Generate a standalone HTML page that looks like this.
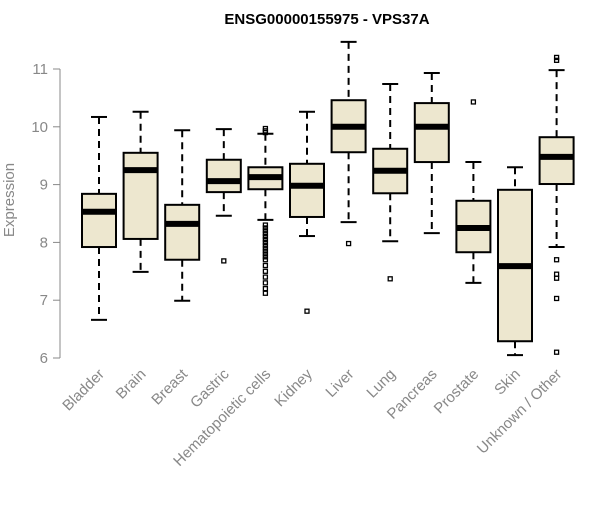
<!DOCTYPE html>
<html><head><meta charset="utf-8"><style>
body{margin:0;background:#fff;font-family:"Liberation Sans",sans-serif}
</style></head><body>
<svg id="c" width="600" height="500" xmlns="http://www.w3.org/2000/svg">
<text x="327" y="24" text-anchor="middle" font-weight="bold" font-size="15">ENSG00000155975 - VPS37A</text>
<text transform="translate(14,200) rotate(-90)" text-anchor="middle" font-size="15" fill="#888">Expression</text>
</svg>
<script>
const categories=["Bladder","Brain","Breast","Gastric","Hematopoietic cells","Kidney","Liver","Lung","Pancreas","Prostate","Skin","Unknown / Other"];
const lows=[6.66,7.49,6.99,8.46,8.39,8.11,8.35,8.02,8.16,7.30,6.05,7.92];
const q1s=[7.92,8.06,7.70,8.87,8.92,8.44,9.56,8.85,9.39,7.83,6.29,9.01];
const medians=[8.53,9.25,8.32,9.06,9.13,8.98,10.0,9.24,10.0,8.25,7.59,9.48];
const q3s=[8.84,9.55,8.65,9.43,9.30,9.36,10.46,9.62,10.41,8.72,8.91,9.82];
const highs=[10.17,10.26,9.94,9.96,9.88,10.26,11.47,10.74,10.93,9.39,9.30,10.98];
const outliers=[[],[],[],[7.68],[9.97,9.93,9.90,8.30,8.25,8.2,8.15,8.1,8.05,8.0,7.95,7.9,7.85,7.8,7.75,7.7,7.6,7.5,7.4,7.3,7.2,7.12],[6.81],[7.98],[7.37],[],[10.43],[],[11.2,11.15,7.7,7.45,7.38,7.03,6.1]];
const yTicks=[6,7,8,9,10,11];
const svg=document.getElementById('c');const NS='http://www.w3.org/2000/svg';
const y=v=>358-(v-6)*57.8;const x=i=>99+i*41.6;
function el(t,a,p){const e=document.createElementNS(NS,t);for(const k in a)e.setAttribute(k,a[k]);(p||svg).appendChild(e);return e;}
const ax=el('line',{x1:60,x2:60,y1:y(6),y2:y(11),stroke:'#888'});


yTicks.forEach(v=>{
 const t=el('line',{x1:53,x2:60,y1:y(v),y2:y(v),stroke:'#888'});
 
 
 const l=el('text',{x:48,y:y(v)+5,'text-anchor':'end','font-size':15,fill:'#888'});
 l.textContent=v;
 
 
});
categories.forEach((c,i)=>{
 const g=el('g',{});
 
 
 const cx=x(i),w=17;
 el('line',{x1:cx,x2:cx,y1:y(highs[i]),y2:y(q3s[i]),stroke:'#000','stroke-width':2,'stroke-dasharray':'7,5'},g);
 el('line',{x1:cx,x2:cx,y1:y(q1s[i]),y2:y(lows[i]),stroke:'#000','stroke-width':2,'stroke-dasharray':'7,5'},g);
 el('line',{x1:cx-8,x2:cx+8,y1:y(highs[i]),y2:y(highs[i]),stroke:'#000','stroke-width':2},g);
 el('line',{x1:cx-8,x2:cx+8,y1:y(lows[i]),y2:y(lows[i]),stroke:'#000','stroke-width':2},g);
 el('rect',{x:cx-w,y:y(q3s[i]),width:2*w,height:y(q1s[i])-y(q3s[i]),fill:'#ede7cf',stroke:'#000','stroke-width':2},g);
 el('line',{x1:cx-w,x2:cx+w,y1:y(medians[i]),y2:y(medians[i]),stroke:'#000','stroke-width':6},g);
 outliers[i].forEach(o=>el('rect',{x:cx-2,y:y(o)-2,width:4,height:4,fill:'none',stroke:'#000','stroke-width':1.3},g));
 const l=el('text',{transform:`translate(${cx+6},${375}) rotate(-45)`,'text-anchor':'end','font-size':15,fill:'#888'});
 l.textContent=c;
 
 
});
</script>
</body></html>
